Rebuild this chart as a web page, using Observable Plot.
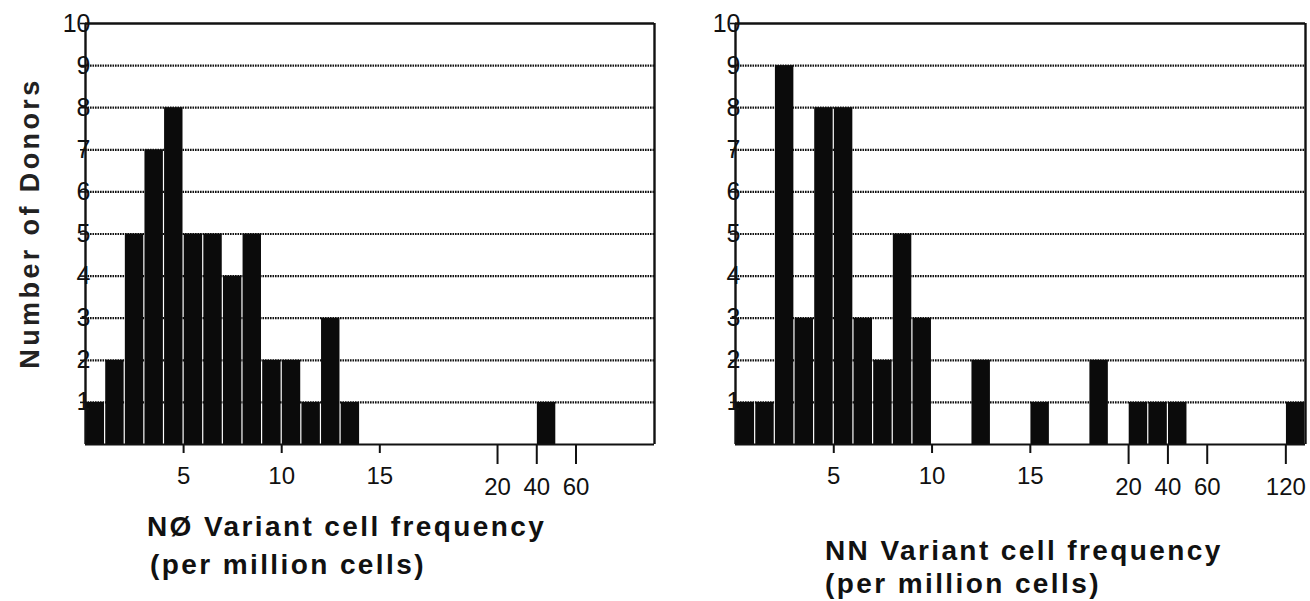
<!DOCTYPE html>
<html>
<head>
<meta charset="utf-8">
<script src="https://cdn.jsdelivr.net/npm/d3@7"></script>
<script src="https://cdn.jsdelivr.net/npm/@observablehq/plot@0.6"></script>
<style>
  body { margin: 0; background: #fff; }
  #wrap { position: relative; width: 1310px; height: 601px; overflow: hidden;
          font-family: "Liberation Sans", Arial, Helvetica, sans-serif; }
  .panel { position: absolute; top: 0; }
  .title { position: absolute; font-weight: bold; font-size: 28px; color: #111;
           white-space: nowrap; line-height: 1; letter-spacing: 2.4px; transform: translateY(-50%); }
  .ytitle { position: absolute; font-weight: bold; font-size: 27px; color: #222;
            white-space: nowrap; line-height: 1; letter-spacing: 3.4px;
            transform: translate(-50%, -50%) rotate(-90deg); }
</style>
</head>
<body>
<div id="wrap">
  <div class="ytitle" id="ytitle" style="left:30px; top:223px;"></div>
  <div class="title" id="lt1" style="left:147px; top:527px;"></div>
  <div class="title" id="lt2" style="left:150px; top:565px;"></div>
  <div class="title" id="rt1" style="left:825px; top:551px;"></div>
  <div class="title" id="rt2" style="left:825px; top:584px;"></div>
</div>
<script>
// ---- data ----
const yTitle = "Number of Donors";
const yTickValues = [1, 2, 3, 4, 5, 6, 7, 8, 9, 10];

// Left panel: NØ variant cell frequency (bin index on the broken axis, donors)
const leftTitle1 = "NØ Variant cell frequency";
const leftTitle2 = "(per million cells)";
const leftBins   = [0, 1, 2, 3, 4, 5, 6, 7, 8, 9, 10, 11, 12, 13, 23];
const leftCounts = [1, 2, 5, 7, 8, 5, 5, 4, 5, 2, 2, 1, 3, 1, 1];
const leftTickPos    = [5, 10, 15, 21, 23, 25];
const leftTickLabels = ["5", "10", "15", "20", "40", "60"];

// Right panel: NN variant cell frequency
const rightTitle1 = "NN Variant cell frequency";
const rightTitle2 = "(per million cells)";
const rightBins   = [0, 1, 2, 3, 4, 5, 6, 7, 8, 9, 12, 15, 18, 20, 21, 22, 28];
const rightCounts = [1, 1, 9, 3, 8, 8, 3, 2, 5, 3, 2, 1, 2, 1, 1, 1, 1];
const rightTickPos    = [5, 10, 15, 20, 22, 24, 28];
const rightTickLabels = ["5", "10", "15", "20", "40", "60", "120"];

// ---- drawing ----
function panel(bins, counts, tickPos, tickLabels, marginRight) {
  const data = bins.map((b, i) => ({bin: b, count: counts[i]}));
  const fmt = d => tickLabels[tickPos.indexOf(d)];
  const shortTicks = tickPos.filter(d => d <= 15);
  const longTicks = tickPos.filter(d => d > 15);
  const grid = yTickValues.filter(d => d < 10);
  return Plot.plot({
    width: 660,
    height: 601,
    marginLeft: 85,
    marginRight: marginRight,
    marginTop: 23,
    marginBottom: 157,
    x: {domain: [0, 29], label: null},
    y: {domain: [0, 10], label: null},
    style: {fontFamily: "'Liberation Sans', Arial, Helvetica, sans-serif", fontSize: "24px", color: "#111", background: "transparent", overflow: "visible"},
    marks: [
      Plot.ruleY(grid, {stroke: "#111", strokeWidth: 2.2, strokeDasharray: "1.6,0.9"}),
      Plot.rect(data, {x1: "bin", x2: d => d.bin + 1, y1: 0, y2: "count", fill: "#0b0b0b", insetLeft: 0.6, insetRight: 0.6}),
      Plot.ruleY([0], {stroke: "#111", strokeWidth: 2}),
      Plot.ruleY([10], {stroke: "#111", strokeWidth: 2.4}),
      Plot.ruleX([0], {stroke: "#111", strokeWidth: 2.4}),
      Plot.ruleX([29], {stroke: "#111", strokeWidth: 2.4}),
      Plot.axisY(yTickValues, {label: null, tickSize: 5, tickPadding: -10, tickFormat: d => String(d), fontSize: 25, stroke: "#111", strokeWidth: 1.6}),
      Plot.axisX(shortTicks, {label: null, tickSize: 9, tickPadding: 13, tickFormat: fmt, fontSize: 24, strokeWidth: 2}),
      Plot.axisX(longTicks, {label: null, tickSize: 20, tickPadding: 13, tickFormat: fmt, fontSize: 24, strokeWidth: 2})
    ]
  });
}

const wrap = document.getElementById("wrap");
const left = panel(leftBins, leftCounts, leftTickPos, leftTickLabels, 6);
left.classList.add("panel");
left.style.left = "0px";
wrap.appendChild(left);

const right = panel(rightBins, rightCounts, rightTickPos, rightTickLabels, 5);
right.classList.add("panel");
right.style.left = "650px";
wrap.appendChild(right);

document.getElementById("ytitle").textContent = yTitle;
document.getElementById("lt1").textContent = leftTitle1;
document.getElementById("lt2").textContent = leftTitle2;
document.getElementById("rt1").textContent = rightTitle1;
document.getElementById("rt2").textContent = rightTitle2;
for (const id of ["ytitle", "lt1", "lt2", "rt1", "rt2"]) wrap.appendChild(document.getElementById(id));
</script>
</body>
</html>
